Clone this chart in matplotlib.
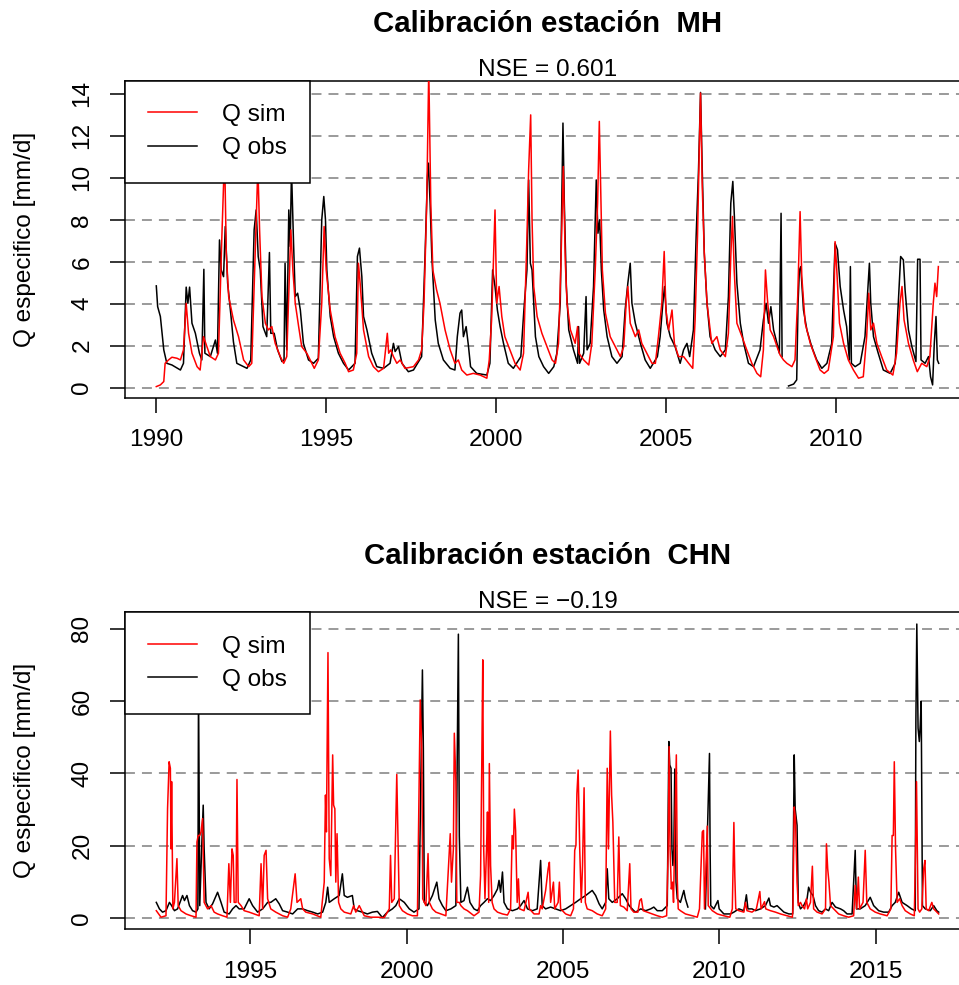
import numpy as np
import matplotlib
matplotlib.use("Agg")
import matplotlib.pyplot as plt

plt.rcParams['font.family'] = ['Liberation Sans', 'DejaVu Sans']

nan = np.nan

# Station MH, specific discharge [mm/d]: (decimal year, value)
mh_obs = [
    (1990.00, 4.85), (1990.04, 3.86), (1990.12, 3.39), (1990.22, 1.80), (1990.31, 1.16),
    (1990.46, 1.08), (1990.71, 0.84), (1990.80, 1.16), (1990.88, 4.79), (1990.93, 4.02),
    (1990.98, 4.79), (1991.05, 3.07), (1991.15, 2.59), (1991.27, 1.64), (1991.34, 1.32),
    (1991.40, 5.64), (1991.43, 1.64), (1991.59, 1.48), (1991.74, 2.27), (1991.80, 1.64),
    (1991.86, 7.04), (1991.91, 5.61), (1991.98, 5.29), (1992.03, 7.68), (1992.10, 4.98),
    (1992.20, 3.39), (1992.27, 2.19), (1992.37, 1.16), (1992.67, 0.92), (1992.78, 1.32),
    (1992.88, 7.52), (1992.94, 8.47), (1993.00, 6.25), (1993.06, 5.61), (1993.14, 2.91),
    (1993.25, 2.43), (1993.33, 6.44), (1993.37, 2.59), (1993.47, 2.59), (1993.57, 1.80),
    (1993.70, 1.24), (1993.76, 1.32), (1993.79, 5.93), (1993.84, 1.80), (1993.90, 8.47),
    (1993.94, 6.73), (1993.98, 10.38), (1994.04, 6.88), (1994.09, 4.34), (1994.16, 4.50),
    (1994.24, 3.70), (1994.33, 2.11), (1994.48, 1.32), (1994.63, 1.16), (1994.77, 1.40),
    (1994.87, 8.00), (1994.93, 9.11), (1994.98, 8.00), (1995.02, 5.61), (1995.12, 3.39),
    (1995.22, 2.43), (1995.36, 1.64), (1995.51, 1.16), (1995.66, 0.84), (1995.85, 1.16),
    (1995.92, 6.25), (1995.98, 6.65), (1996.05, 5.29), (1996.10, 3.39), (1996.20, 2.75),
    (1996.34, 1.64), (1996.49, 1.00), (1996.69, 0.92), (1996.88, 1.16), (1996.98, 2.11),
    (1997.03, 1.72), (1997.13, 1.96), (1997.23, 1.16), (1997.42, 0.76), (1997.57, 0.84),
    (1997.81, 1.48), (1997.91, 6.25), (1997.98, 10.06), (1998.01, 10.70), (1998.06, 8.79),
    (1998.11, 6.25), (1998.21, 3.23), (1998.30, 2.11), (1998.45, 1.32), (1998.65, 0.92),
    (1998.79, 0.84), (1998.86, 2.43), (1998.94, 3.55), (1998.99, 3.70), (1999.04, 2.43),
    (1999.12, 2.91), (1999.19, 1.96), (1999.25, 1.00), (1999.43, 0.68), (1999.73, 0.60),
    (1999.82, 1.16), (1999.90, 5.61), (1999.97, 4.82), (2000.04, 3.70), (2000.12, 2.91),
    (2000.22, 2.11), (2000.36, 1.16), (2000.51, 0.92), (2000.73, 1.48), (2000.82, 3.70),
    (2000.91, 5.61), (2000.96, 9.90), (2001.01, 5.93), (2001.06, 5.61), (2001.11, 4.02),
    (2001.16, 2.43), (2001.26, 1.48), (2001.40, 1.00), (2001.55, 0.68), (2001.70, 1.00),
    (2001.79, 1.64), (2001.89, 4.02), (2001.97, 12.61), (2002.01, 8.79), (2002.07, 4.82),
    (2002.14, 2.75), (2002.28, 1.80), (2002.40, 1.16), (2002.43, 2.91), (2002.46, 1.16),
    (2002.58, 1.64), (2002.65, 4.34), (2002.68, 1.80), (2002.77, 2.11), (2002.87, 4.82),
    (2002.95, 9.90), (2003.00, 7.36), (2003.05, 8.00), (2003.10, 5.61), (2003.17, 3.70),
    (2003.27, 2.43), (2003.41, 1.48), (2003.56, 1.16), (2003.71, 1.48), (2003.80, 3.70),
    (2003.88, 4.98), (2003.95, 5.93), (2004.00, 4.02), (2004.10, 3.07), (2004.25, 2.11),
    (2004.39, 1.32), (2004.54, 0.92), (2004.75, 1.48), (2004.83, 2.43), (2004.91, 4.02),
    (2004.96, 4.82), (2005.03, 3.07), (2005.13, 2.43), (2005.27, 1.96), (2005.42, 1.16),
    (2005.52, 1.80), (2005.62, 2.11), (2005.70, 1.48), (2005.81, 2.75), (2005.89, 7.20),
    (2005.96, 10.38), (2006.02, 14.07), (2006.07, 10.38), (2006.13, 6.41), (2006.21, 4.02),
    (2006.30, 2.43), (2006.45, 1.80), (2006.60, 1.48), (2006.75, 1.80), (2006.84, 4.34),
    (2006.91, 8.79), (2006.97, 9.83), (2007.02, 8.00), (2007.09, 4.98), (2007.19, 3.07),
    (2007.29, 2.11), (2007.43, 1.16), (2007.58, 1.00), (2007.77, 1.80), (2007.87, 3.23),
    (2007.95, 4.02), (2008.02, 3.07), (2008.09, 3.86), (2008.17, 2.75), (2008.27, 2.11),
    (2008.34, 1.64), (2008.39, 8.31), (2008.42, 1.48), (2008.50, nan), (2008.61, 0.08),
    (2008.76, 0.17), (2008.85, 0.37), (2008.89, 4.02), (2008.93, 5.61), (2008.97, 5.77),
    (2009.05, 3.70), (2009.15, 2.75), (2009.29, 1.96), (2009.44, 1.32), (2009.59, 0.92),
    (2009.74, 1.16), (2009.88, 2.11), (2009.98, 6.88), (2010.05, 6.57), (2010.13, 4.82),
    (2010.23, 3.70), (2010.32, 2.91), (2010.40, 1.32), (2010.43, 5.77), (2010.46, 1.16),
    (2010.57, 1.00), (2010.72, 1.16), (2010.86, 2.43), (2010.93, 4.34), (2010.99, 5.93),
    (2011.03, 4.02), (2011.11, 2.43), (2011.25, 1.64), (2011.40, 0.84), (2011.60, 0.68),
    (2011.75, 1.16), (2011.84, 4.02), (2011.91, 6.25), (2011.99, 6.09), (2012.04, 4.66),
    (2012.14, 2.75), (2012.24, 1.96), (2012.36, 1.24), (2012.41, 6.12), (2012.48, 6.12),
    (2012.51, 1.32), (2012.63, 1.16), (2012.73, 1.48), (2012.79, 0.52), (2012.85, 0.13),
    (2012.90, 2.11), (2012.95, 3.39), (2012.99, 1.32), (2013.03, 1.16),
]

mh_sim = [
    (1990.00, 0.05), (1990.12, 0.13), (1990.22, 0.29), (1990.26, 1.16), (1990.36, 1.32),
    (1990.46, 1.45), (1990.61, 1.40), (1990.71, 1.32), (1990.80, 1.80), (1990.88, 4.02),
    (1990.95, 2.59), (1991.05, 1.64), (1991.20, 1.00), (1991.29, 0.84), (1991.39, 2.43),
    (1991.49, 1.96), (1991.59, 1.48), (1991.74, 1.32), (1991.83, 1.64), (1991.93, 7.20),
    (1992.01, 11.18), (1992.06, 6.41), (1992.13, 4.34), (1992.27, 3.23), (1992.42, 2.43),
    (1992.57, 1.32), (1992.72, 1.00), (1992.81, 1.16), (1992.91, 6.41), (1992.99, 10.54),
    (1993.04, 7.52), (1993.11, 4.34), (1993.21, 3.07), (1993.30, 2.75), (1993.40, 2.91),
    (1993.50, 2.11), (1993.65, 1.48), (1993.75, 1.16), (1993.84, 1.48), (1993.89, 4.02),
    (1993.96, 7.52), (1994.02, 5.61), (1994.09, 4.02), (1994.19, 2.91), (1994.28, 1.96),
    (1994.43, 1.64), (1994.53, 1.32), (1994.65, 0.92), (1994.77, 1.32), (1994.87, 4.02),
    (1994.94, 7.68), (1995.00, 5.61), (1995.12, 3.70), (1995.26, 2.43), (1995.41, 1.64),
    (1995.56, 1.16), (1995.66, 0.76), (1995.80, 0.84), (1995.90, 1.64), (1995.95, 5.93),
    (1996.00, 4.98), (1996.10, 2.75), (1996.25, 1.48), (1996.39, 1.00), (1996.54, 0.76),
    (1996.69, 0.92), (1996.80, 2.59), (1996.84, 1.64), (1996.90, 1.80), (1996.98, 1.48),
    (1997.08, 1.16), (1997.18, 1.32), (1997.32, 0.92), (1997.57, 1.00), (1997.72, 1.32),
    (1997.81, 1.80), (1997.88, 4.02), (1997.96, 8.79), (1998.02, 15.20), (1998.08, 8.79),
    (1998.14, 5.61), (1998.25, 4.66), (1998.35, 4.02), (1998.50, 2.75), (1998.65, 1.80),
    (1998.79, 1.16), (1998.89, 1.32), (1998.99, 0.84), (1999.14, 0.60), (1999.33, 0.68),
    (1999.53, 0.60), (1999.73, 0.45), (1999.80, 1.32), (1999.87, 3.23), (1999.97, 8.47),
    (2000.02, 4.02), (2000.09, 4.82), (2000.17, 3.39), (2000.26, 2.43), (2000.41, 1.80),
    (2000.56, 1.16), (2000.71, 0.84), (2000.81, 1.64), (2000.91, 7.20), (2000.96, 10.38),
    (2001.02, 13.00), (2001.06, 8.00), (2001.11, 4.82), (2001.21, 3.39), (2001.35, 2.59),
    (2001.50, 1.96), (2001.65, 1.32), (2001.75, 1.16), (2001.84, 2.11), (2001.91, 5.93),
    (2001.98, 10.54), (2002.04, 5.93), (2002.09, 4.02), (2002.19, 2.75), (2002.33, 2.11),
    (2002.40, 2.91), (2002.44, 1.64), (2002.58, 1.32), (2002.73, 1.08), (2002.82, 2.11),
    (2002.92, 5.61), (2002.99, 8.79), (2003.04, 12.69), (2003.08, 9.59), (2003.13, 5.61),
    (2003.22, 3.55), (2003.36, 2.43), (2003.51, 1.96), (2003.66, 1.48), (2003.76, 1.96),
    (2003.83, 4.02), (2003.88, 4.82), (2003.95, 3.07), (2004.10, 2.43), (2004.20, 2.75),
    (2004.29, 2.11), (2004.44, 1.64), (2004.59, 1.16), (2004.69, 1.16), (2004.78, 2.43),
    (2004.88, 4.02), (2004.95, 6.49), (2005.00, 3.70), (2005.08, 2.75), (2005.18, 3.70),
    (2005.25, 2.11), (2005.37, 1.48), (2005.52, 1.48), (2005.67, 1.16), (2005.79, 0.92),
    (2005.86, 3.23), (2005.93, 7.20), (2005.98, 11.18), (2006.02, 14.04), (2006.07, 9.59),
    (2006.13, 6.41), (2006.21, 4.02), (2006.35, 2.11), (2006.50, 2.43), (2006.60, 1.80),
    (2006.75, 1.48), (2006.84, 2.59), (2006.91, 6.25), (2006.96, 8.16), (2007.01, 5.61),
    (2007.09, 3.07), (2007.24, 2.43), (2007.38, 1.80), (2007.53, 1.16), (2007.68, 0.68),
    (2007.79, 0.52), (2007.87, 1.80), (2007.93, 5.61), (2007.99, 4.18), (2008.07, 2.75),
    (2008.17, 2.43), (2008.27, 1.96), (2008.36, 1.56), (2008.46, 1.32), (2008.56, 1.16),
    (2008.71, 1.00), (2008.80, 1.32), (2008.88, 4.34), (2008.95, 8.39), (2009.00, 5.29),
    (2009.10, 3.07), (2009.25, 2.11), (2009.39, 1.48), (2009.54, 0.84), (2009.66, 0.68),
    (2009.78, 0.84), (2009.93, 2.43), (2009.98, 6.96), (2010.03, 5.61), (2010.11, 3.07),
    (2010.23, 2.11), (2010.37, 1.32), (2010.52, 0.84), (2010.67, 0.45), (2010.81, 0.52),
    (2010.91, 2.43), (2010.97, 4.50), (2011.03, 2.75), (2011.11, 3.07), (2011.21, 2.11),
    (2011.35, 1.48), (2011.50, 0.84), (2011.68, 0.60), (2011.79, 1.64), (2011.89, 4.02),
    (2011.95, 4.82), (2012.01, 3.23), (2012.14, 2.11), (2012.28, 1.32), (2012.40, 0.76),
    (2012.53, 1.16), (2012.68, 1.00), (2012.77, 1.48), (2012.87, 4.02), (2012.92, 4.98),
    (2012.97, 4.34), (2013.02, 5.77),
]

# Station CHN
chn_obs = [
    (1991.99, 4.3), (1992.09, 2.5), (1992.19, 1.6), (1992.30, 2.0), (1992.41, 4.3),
    (1992.48, 3.4), (1992.57, 2.0), (1992.67, 2.5), (1992.83, 6.2), (1992.89, 4.8),
    (1992.97, 6.2), (1993.05, 3.4), (1993.15, 2.0), (1993.26, 1.6), (1993.32, 2.5),
    (1993.34, 65.0), (1993.38, 3.4), (1993.44, 19.1), (1993.49, 31.2), (1993.52, 19.1),
    (1993.58, 4.3), (1993.68, 2.5), (1993.79, 3.9), (1993.95, 7.1), (1994.06, 4.3),
    (1994.16, 1.6), (1994.32, 1.1), (1994.43, 2.5), (1994.54, 3.4), (1994.64, 2.5),
    (1994.80, 2.5), (1994.96, 5.3), (1995.07, 3.4), (1995.23, 1.6), (1995.39, 2.5),
    (1995.55, 4.3), (1995.65, 4.3), (1995.81, 5.3), (1995.92, 3.9), (1996.03, 2.0),
    (1996.19, 1.6), (1996.35, 1.1), (1996.51, 2.5), (1996.67, 2.5), (1996.83, 2.0),
    (1996.99, 1.6), (1997.15, 1.1), (1997.31, 1.6), (1997.41, 4.3), (1997.47, 8.5),
    (1997.52, 4.3), (1997.68, 5.3), (1997.84, 6.2), (1997.94, 12.2), (1998.00, 6.2),
    (1998.10, 5.7), (1998.26, 6.2), (1998.32, 2.5), (1998.42, 2.0), (1998.58, 1.6),
    (1998.74, 1.1), (1998.90, 1.6), (1999.06, 1.8), (1999.22, 0.1), (1999.38, 1.6),
    (1999.54, 2.5), (1999.65, 3.4), (1999.76, 5.3), (1999.92, 4.3), (2000.08, 2.5),
    (2000.23, 1.6), (2000.39, 2.5), (2000.50, 68.6), (2000.53, 46.9), (2000.56, 4.3),
    (2000.66, 3.4), (2000.82, 6.2), (2000.96, 9.9), (2001.03, 5.3), (2001.14, 3.4),
    (2001.25, 2.0), (2001.41, 2.5), (2001.57, 3.4), (2001.65, 78.5), (2001.68, 22.8),
    (2001.73, 4.3), (2001.83, 4.8), (2001.94, 8.5), (2002.02, 4.3), (2002.15, 2.5),
    (2002.26, 2.0), (2002.36, 3.4), (2002.47, 4.3), (2002.58, 5.3), (2002.68, 4.8),
    (2002.79, 6.2), (2002.90, 8.0), (2002.95, 10.4), (2003.00, 7.1), (2003.06, 12.7),
    (2003.11, 4.3), (2003.22, 2.5), (2003.38, 2.0), (2003.54, 2.5), (2003.64, 3.4),
    (2003.75, 4.8), (2003.86, 2.5), (2004.02, 2.0), (2004.17, 2.5), (2004.28, 15.9),
    (2004.33, 3.4), (2004.44, 2.5), (2004.60, 3.0), (2004.76, 2.5), (2004.92, 2.0),
    (2005.08, 2.5), (2005.24, 3.4), (2005.40, 4.3), (2005.56, 5.3), (2005.72, 6.2),
    (2005.93, 7.6), (2006.04, 6.2), (2006.15, 3.9), (2006.25, 2.5), (2006.36, 4.3),
    (2006.41, 13.6), (2006.46, 5.3), (2006.57, 4.3), (2006.73, 5.3), (2006.89, 6.7),
    (2007.00, 5.3), (2007.11, 3.4), (2007.26, 2.0), (2007.32, 1.6), (2007.48, 2.5),
    (2007.64, 2.0), (2007.80, 2.5), (2007.90, 3.0), (2008.01, 2.0), (2008.17, 2.0),
    (2008.33, 3.4), (2008.38, 48.8), (2008.41, 42.3), (2008.45, 41.4), (2008.48, 19.1),
    (2008.51, 14.5), (2008.54, 19.1), (2008.57, 41.2), (2008.61, 9.9), (2008.65, 5.3),
    (2008.75, 4.3), (2008.86, 7.6), (2008.91, 5.3), (2008.99, 3.0), (2009.20, nan),
    (2009.55, 2.5), (2009.68, 45.5), (2009.70, 19.1), (2009.72, 3.4), (2009.82, 2.5),
    (2009.95, 4.8), (2009.99, 2.5), (2010.14, 1.1), (2010.35, 1.1), (2010.46, 1.6),
    (2010.62, 2.5), (2010.78, 2.0), (2010.86, 6.4), (2010.91, 2.5), (2011.04, 2.5),
    (2011.15, 2.0), (2011.31, 2.5), (2011.47, 3.4), (2011.58, 5.5), (2011.63, 3.4),
    (2011.74, 3.0), (2011.84, 3.4), (2011.95, 2.5), (2012.06, 1.6), (2012.22, 1.1),
    (2012.34, 1.1), (2012.39, 45.1), (2012.42, 30.2), (2012.48, 25.6), (2012.52, 4.3),
    (2012.59, 2.5), (2012.69, 3.4), (2012.80, 5.3), (2012.85, 8.5), (2012.91, 7.1),
    (2012.99, 6.2), (2013.07, 3.4), (2013.17, 2.0), (2013.28, 1.6), (2013.39, 2.5),
    (2013.49, 2.0), (2013.60, 4.3), (2013.71, 3.0), (2013.87, 2.5), (2013.97, 2.0),
    (2014.08, 1.1), (2014.24, 1.1), (2014.34, 18.7), (2014.38, 2.5), (2014.50, 2.5),
    (2014.66, 3.4), (2014.82, 5.7), (2014.93, 3.4), (2015.09, 2.0), (2015.25, 1.6),
    (2015.41, 1.6), (2015.52, 3.4), (2015.62, 4.3), (2015.73, 7.1), (2015.84, 4.3),
    (2016.00, 3.4), (2016.14, 2.5), (2016.26, 2.0), (2016.28, 54.3), (2016.31, 81.3),
    (2016.35, 52.5), (2016.39, 48.8), (2016.42, 53.4), (2016.45, 60.0), (2016.49, 3.4),
    (2016.58, 2.5), (2016.74, 2.0), (2016.85, 3.4), (2016.95, 2.0), (2017.01, 1.6),
]

chn_sim = [
    (1991.99, 2.0), (1992.14, 0.2), (1992.30, 0.6), (1992.35, 30.2), (1992.40, 43.2),
    (1992.44, 41.4), (1992.46, 19.1), (1992.48, 37.7), (1992.52, 2.5), (1992.57, 4.3),
    (1992.65, 16.4), (1992.69, 3.4), (1992.78, 2.0), (1992.94, 1.1), (1993.10, 0.6),
    (1993.26, 0.2), (1993.29, 21.0), (1993.33, 22.8), (1993.38, 22.8), (1993.42, 23.8),
    (1993.47, 27.5), (1993.52, 4.3), (1993.63, 2.5), (1993.74, 3.4), (1993.84, 1.6),
    (1993.95, 1.1), (1994.11, 0.6), (1994.25, 0.2), (1994.31, 15.0), (1994.36, 4.3),
    (1994.41, 19.1), (1994.45, 17.3), (1994.48, 4.3), (1994.54, 4.3), (1994.57, 38.3),
    (1994.61, 4.3), (1994.70, 3.4), (1994.80, 2.0), (1994.96, 1.6), (1995.12, 1.1),
    (1995.28, 0.6), (1995.34, 15.0), (1995.39, 2.5), (1995.44, 17.3), (1995.50, 18.7),
    (1995.55, 5.3), (1995.65, 2.5), (1995.81, 1.6), (1996.03, 0.6), (1996.19, 0.2),
    (1996.29, 2.5), (1996.43, 12.2), (1996.49, 4.3), (1996.61, 5.3), (1996.67, 2.5),
    (1996.77, 1.6), (1996.99, 1.1), (1997.25, 0.2), (1997.36, 9.9), (1997.40, 34.0),
    (1997.43, 23.8), (1997.48, 73.4), (1997.52, 16.4), (1997.57, 11.7), (1997.63, 45.1),
    (1997.66, 31.2), (1997.70, 30.2), (1997.73, 9.9), (1997.77, 23.3), (1997.82, 4.3),
    (1997.89, 2.5), (1998.00, 1.6), (1998.21, 1.1), (1998.30, 3.4), (1998.37, 1.6),
    (1998.48, 3.4), (1998.64, 0.6), (1998.85, 0.2), (1999.06, 0.2), (1999.28, 0.1),
    (1999.44, 2.5), (1999.48, 17.3), (1999.52, 4.3), (1999.60, 5.3), (1999.65, 26.5),
    (1999.68, 39.7), (1999.72, 21.0), (1999.76, 3.4), (1999.86, 2.0), (2000.02, 1.1),
    (2000.18, 0.6), (2000.34, 0.6), (2000.43, 60.3), (2000.48, 46.9), (2000.51, 5.3),
    (2000.61, 3.4), (2000.68, 17.8), (2000.72, 4.3), (2000.82, 2.5), (2000.93, 1.6),
    (2001.09, 1.1), (2001.25, 0.6), (2001.39, 23.3), (2001.43, 9.9), (2001.49, 19.1),
    (2001.52, 51.1), (2001.57, 37.7), (2001.60, 4.3), (2001.68, 4.3), (2001.73, 3.4),
    (2001.83, 2.5), (2001.94, 2.0), (2002.15, 0.6), (2002.31, 1.6), (2002.36, 11.7),
    (2002.40, 44.1), (2002.43, 71.4), (2002.46, 19.1), (2002.50, 5.3), (2002.55, 19.1),
    (2002.58, 29.3), (2002.62, 4.3), (2002.64, 42.7), (2002.68, 14.5), (2002.73, 4.3),
    (2002.79, 2.5), (2002.90, 1.6), (2003.06, 1.1), (2003.22, 0.8), (2003.32, 2.5),
    (2003.37, 22.8), (2003.41, 19.1), (2003.44, 30.1), (2003.48, 24.2), (2003.53, 4.3),
    (2003.57, 10.8), (2003.61, 2.5), (2003.75, 2.0), (2003.88, 7.1), (2003.92, 2.5),
    (2004.07, 1.1), (2004.23, 1.1), (2004.28, 3.4), (2004.33, 2.5), (2004.44, 7.6),
    (2004.52, 13.6), (2004.56, 15.4), (2004.60, 4.3), (2004.69, 9.9), (2004.73, 2.5),
    (2004.84, 4.3), (2004.88, 9.9), (2004.92, 2.5), (2005.08, 1.1), (2005.24, 0.6),
    (2005.33, 2.5), (2005.37, 18.7), (2005.41, 20.1), (2005.44, 34.4), (2005.48, 40.9),
    (2005.53, 19.1), (2005.58, 4.3), (2005.62, 14.5), (2005.67, 36.0), (2005.71, 4.3),
    (2005.77, 2.5), (2005.93, 2.0), (2006.09, 1.1), (2006.25, 0.6), (2006.36, 2.5),
    (2006.41, 41.4), (2006.45, 19.1), (2006.51, 51.7), (2006.55, 34.0), (2006.59, 26.5),
    (2006.65, 4.3), (2006.73, 4.3), (2006.78, 22.4), (2006.83, 3.4), (2006.94, 3.0),
    (2007.05, 2.0), (2007.13, 15.0), (2007.17, 2.5), (2007.26, 1.6), (2007.39, 1.6),
    (2007.45, 4.8), (2007.50, 5.3), (2007.56, 2.0), (2007.69, 1.6), (2007.85, 1.1),
    (2008.01, 0.6), (2008.17, 0.2), (2008.31, 0.6), (2008.36, 19.1), (2008.39, 47.4),
    (2008.42, 19.1), (2008.46, 8.0), (2008.50, 9.9), (2008.53, 4.3), (2008.58, 28.4),
    (2008.62, 45.1), (2008.65, 10.8), (2008.68, 2.5), (2008.75, 2.0), (2008.91, 1.1),
    (2009.13, 0.6), (2009.29, 0.2), (2009.36, 2.5), (2009.45, 23.8), (2009.49, 24.2),
    (2009.52, 2.5), (2009.56, 11.7), (2009.61, 25.4), (2009.64, 3.4), (2009.77, 2.0),
    (2009.93, 1.1), (2010.14, 0.6), (2010.33, 0.2), (2010.41, 2.5), (2010.46, 26.4),
    (2010.49, 11.7), (2010.52, 2.5), (2010.62, 2.0), (2010.78, 1.6), (2010.83, 4.3),
    (2010.88, 2.0), (2011.04, 1.6), (2011.18, 2.5), (2011.29, 7.3), (2011.33, 2.5),
    (2011.44, 4.5), (2011.48, 2.5), (2011.63, 2.0), (2011.79, 1.6), (2011.95, 1.1),
    (2012.16, 0.6), (2012.33, 0.2), (2012.35, 2.5), (2012.39, 30.7), (2012.43, 27.5),
    (2012.48, 9.9), (2012.52, 3.4), (2012.59, 4.3), (2012.64, 3.4), (2012.72, 2.5),
    (2012.78, 5.3), (2012.82, 2.5), (2012.91, 4.3), (2012.97, 14.3), (2013.01, 2.5),
    (2013.12, 1.6), (2013.28, 1.1), (2013.39, 2.5), (2013.42, 20.5), (2013.46, 13.6),
    (2013.50, 9.9), (2013.55, 3.4), (2013.65, 2.5), (2013.81, 1.1), (2013.97, 0.6),
    (2014.13, 0.2), (2014.29, 0.6), (2014.34, 9.0), (2014.39, 2.5), (2014.44, 11.3),
    (2014.48, 2.5), (2014.59, 4.3), (2014.66, 18.7), (2014.71, 4.3), (2014.82, 2.5),
    (2014.98, 1.6), (2015.14, 1.1), (2015.36, 0.6), (2015.48, 2.5), (2015.52, 22.8),
    (2015.56, 22.8), (2015.59, 43.2), (2015.63, 19.1), (2015.68, 4.3), (2015.76, 5.3),
    (2015.84, 3.4), (2015.94, 2.0), (2016.10, 1.1), (2016.23, 0.6), (2016.27, 19.1),
    (2016.30, 37.7), (2016.35, 2.5), (2016.40, 1.6), (2016.47, 2.5), (2016.53, 13.6),
    (2016.57, 15.9), (2016.61, 2.5), (2016.69, 2.0), (2016.79, 4.3), (2016.85, 2.5),
    (2016.95, 1.6), (2017.01, 1.1),
]

mh_xticks = [1990, 1995, 2000, 2005, 2010]
mh_yticks = [0, 2, 4, 6, 8, 10, 12, 14]
chn_xticks = [1995, 2000, 2005, 2010, 2015]
chn_yticks = [0, 20, 40, 60, 80]

W, H = 959, 985          # output size in pixels
FS = 17.6                # base text size (pt)
LW = 1.1


def r_range(v):
    # R's default axis extension: data range padded by 4 % on each side
    lo, hi = np.nanmin(v), np.nanmax(v)
    pad = 0.04 * (hi - lo)
    return lo - pad, hi + pad


def draw_panel(ax, station, nse, obs, sim, xticks, yticks):
    t_obs, q_obs = np.array(obs).T
    t_sim, q_sim = np.array(sim).T

    for y in yticks:
        ax.axhline(y, color='#7f7f7f', lw=LW, ls=(0, (6.5, 4.6)), zorder=1)

    ax.plot(t_obs, q_obs, color='black', lw=LW, zorder=2, label='Q obs')
    ax.plot(t_sim, q_sim, color='red', lw=LW, zorder=3, label='Q sim')

    ax.set_xlim(r_range(t_obs))
    ax.set_ylim(r_range(q_obs))
    ax.set_xticks(xticks)
    ax.set_yticks(yticks)
    ax.tick_params(direction='out', length=10.8, width=LW, labelsize=FS, pad=12)
    for lab in ax.get_yticklabels():
        lab.set_rotation(90)
        lab.set_va('center')
    for s in ax.spines.values():
        s.set_linewidth(LW)

    h, l = ax.get_legend_handles_labels()
    leg = ax.legend(h[::-1], l[::-1], loc='upper left', bbox_to_anchor=(0, 1),
                    borderaxespad=0, fancybox=False, framealpha=1,
                    edgecolor='black', fontsize=FS, handlelength=2.0,
                    handletextpad=1.0, borderpad=0.95, labelspacing=0.46)
    leg.get_frame().set_linewidth(LW)

    ax.annotate(f'Calibración estación  {station}', xy=(0.5, 1),
                xycoords='axes fraction', xytext=(0, 35), textcoords='offset points',
                ha='center', va='baseline', fontsize=21.2, fontweight='bold')
    ax.annotate(f'NSE = {nse}', xy=(0.5, 1), xycoords='axes fraction',
                xytext=(0, 3.4), textcoords='offset points',
                ha='center', va='baseline', fontsize=FS)


fig = plt.figure(figsize=(W / 100, H / 100), dpi=100)

panels = [
    (80.7, 'MH', '0.601', mh_obs, mh_sim, mh_xticks, mh_yticks),
    (612.3, 'CHN', '\u22120.19', chn_obs, chn_sim, chn_xticks, chn_yticks),
]
for top, station, nse, obs, sim, xt, yt in panels:
    ax = fig.add_axes([125 / W, 1 - (top + 317) / H, 845 / W, 317 / H])
    draw_panel(ax, station, nse, obs, sim, xt, yt)
    fig.text(25 / W, 1 - (top + 158.5) / H, 'Q especifico [mm/d]', rotation=90,
             ha='center', va='center', fontsize=FS)

fig.savefig('out.png', dpi=100)
